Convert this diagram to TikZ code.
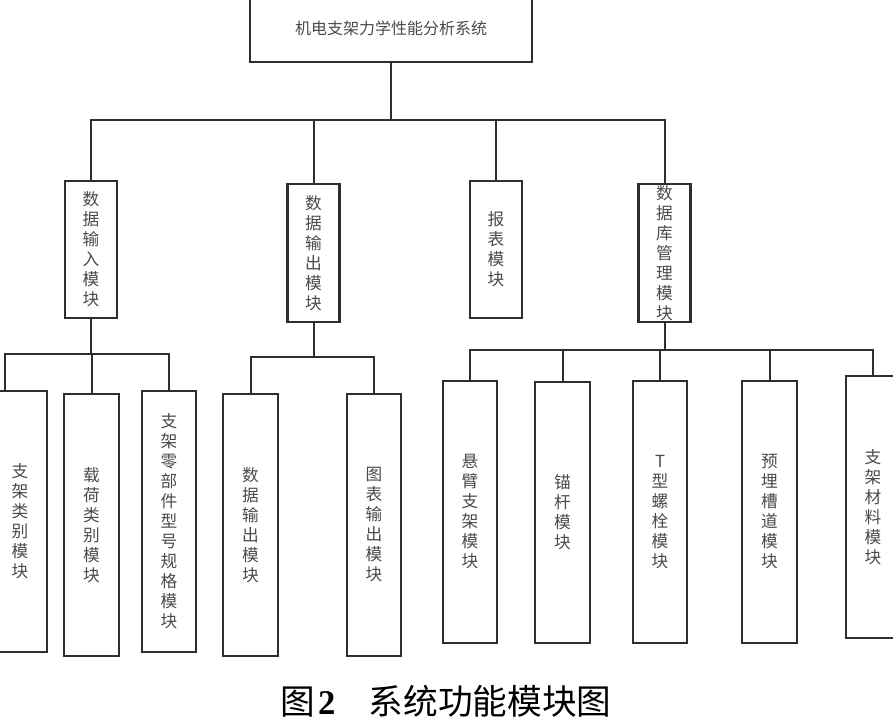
\documentclass[tikz,border=0pt]{standalone}
\usepackage{fontspec}
\newfontfamily\cjk{Noto Sans CJK SC}
\newfontfamily\capserif{Liberation Serif}
\definecolor{ln}{HTML}{2E2E2E}
\definecolor{tx}{HTML}{4A4A4A}
\begin{document}
\begin{tikzpicture}[x=0.75pt,y=-0.75pt,
  box/.style={draw=ln,line width=1.6pt,rectangle,inner sep=0pt,
    font=\cjk\fontsize{12.5}{15}\selectfont,text=tx,align=center},
  lvtwo/.style={box,minimum width=39pt,minimum height=103pt},
  lvthree/.style={box,minimum width=41pt,minimum height=196pt},
  wire/.style={draw=ln,line width=1.5pt}]
\useasboundingbox (0,0) rectangle (893,725);
\clip (0,0) rectangle (893,725);
% top
\node[box,minimum width=211.5pt,minimum height=50.25pt,font=\cjk\fontsize{12}{15}\selectfont] (top) at (391,28.5) {机电支架力学性能分析系统};
% level 2
\node[lvtwo] (in)  at (91,249.5)  {数\\据\\输\\入\\模\\块};
\node[lvtwo] (out) at (313.5,253) {数\\据\\输\\出\\模\\块};
\node[lvtwo] (rep) at (496,249.5) {报\\表\\模\\块};
\node[lvtwo] (db)  at (664.5,253) {数\\据\\库\\管\\理\\模\\块};
% level 3
\node[lvthree] (a1) at (20,521.5)  {支\\架\\类\\别\\模\\块};
\node[lvthree] (a2) at (91.5,525)  {载\\荷\\类\\别\\模\\块};
\node[lvthree] (a3) at (169,521.5) {支\\架\\零\\部\\件\\型\\号\\规\\格\\模\\块};
\node[lvthree] (b1) at (250.5,525) {数\\据\\输\\出\\模\\块};
\node[lvthree] (b2) at (374,525)   {图\\表\\输\\出\\模\\块};
\node[lvthree] (c1) at (470,512)   {悬\\臂\\支\\架\\模\\块};
\node[lvthree] (c2) at (562.5,512.5) {锚\\杆\\模\\块};
\node[lvthree] (c3) at (660,512)   {T\\型\\螺\\栓\\模\\块};
\node[lvthree] (c4) at (769.5,512) {预\\埋\\槽\\道\\模\\块};
\node[lvthree] (c5) at (873,507)   {支\\架\\材\\料\\模\\块};
% connectors level 1
\coordinate (j0) at (391,120);
\draw[wire] (top.south) -- (j0);
\draw[wire] (j0) -| (in.north);
\draw[wire] (j0) -| (out.north);
\draw[wire] (j0) -| (rep.north);
\draw[wire] (j0) -| (db.north);
% connectors level 2
\coordinate (j1) at (91,354);
\draw[wire] (in.south) -- (j1);
\draw[wire] (j1) -| ([xshift=-11.25pt]a1.north);
\draw[wire] (j1) -| (a2.north);
\draw[wire] (j1) -| (a3.north);
\coordinate (j2) at (313.5,357);
\draw[wire] (out.south) -- (j2);
\draw[wire] (j2) -| (b1.north);
\draw[wire] (j2) -| (b2.north);
\coordinate (j3) at (664.5,350);
\draw[wire] (db.south) -- (j3);
\draw[wire] (j3) -| (c1.north);
\draw[wire] (j3) -| (c2.north);
\draw[wire] (j3) -| (c3.north);
\draw[wire] (j3) -| (c4.north);
\draw[wire] (j3) -| (c5.north);
% caption
\node[inner sep=0pt,font=\fontsize{26}{26}\selectfont] (cap) at (446,701)
  {\cjk 图\hspace{2pt}{\capserif\bfseries 2}\hspace{25pt}系统功能模块图};
\end{tikzpicture}
\end{document}
